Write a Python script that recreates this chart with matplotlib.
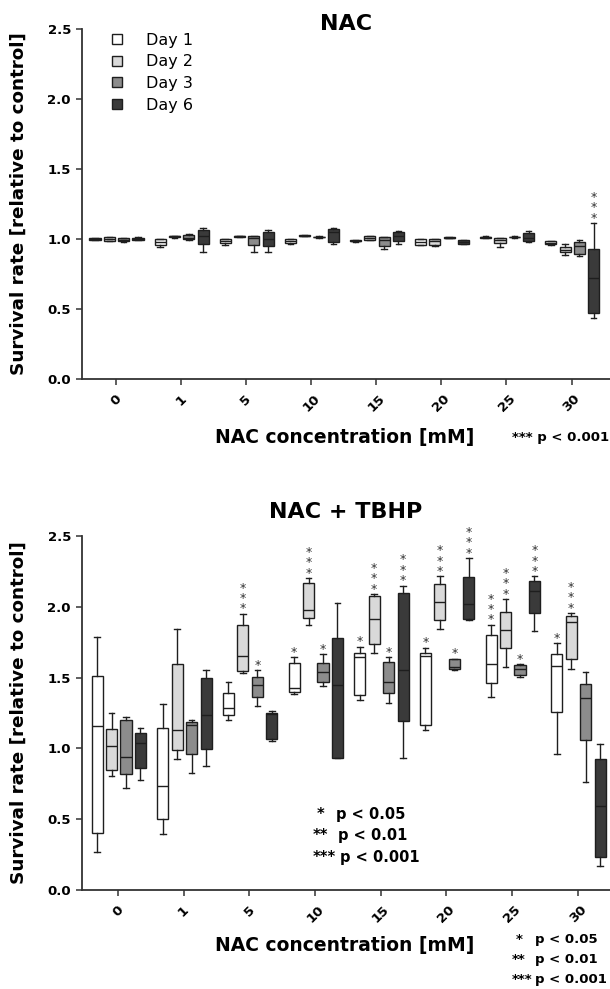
import numpy as np
import matplotlib
matplotlib.use('Agg')
import matplotlib.pyplot as plt
from matplotlib.lines import Line2D

plt.rcParams['font.family'] = 'DejaVu Sans'

concentrations = ['0', '1', '5', '10', '15', '20', '25', '30']
days = ['Day 1', 'Day 2', 'Day 3', 'Day 6']
day_colors = ['#ffffff', '#d9d9d9', '#8c8c8c', '#3a3a3a']

# box summaries per concentration: (min, q1, median, q3, max)
nac_day1 = [(0.99, 0.995, 1.0, 1.005, 1.01), (0.94, 0.96, 0.98, 1.0, 1.0),
            (0.957, 0.97, 0.985, 1.0, 1.0), (0.967, 0.97, 0.985, 1.0, 1.0),
            (0.98, 0.985, 0.988, 0.99, 0.993), (0.96, 0.96, 0.98, 1.0, 1.0),
            (1.005, 1.008, 1.012, 1.015, 1.018), (0.955, 0.967, 0.975, 0.983, 0.985)]
nac_day2 = [(0.985, 0.988, 1.0, 1.014, 1.016), (1.01, 1.013, 1.018, 1.022, 1.025),
            (1.012, 1.015, 1.02, 1.022, 1.025), (1.02, 1.022, 1.024, 1.026, 1.028),
            (0.99, 0.995, 1.005, 1.019, 1.025), (0.95, 0.96, 0.983, 1.0, 1.0),
            (0.943, 0.971, 0.99, 1.005, 1.005), (0.888, 0.905, 0.924, 0.943, 0.967)]
nac_day3 = [(0.976, 0.985, 0.995, 1.005, 1.01), (0.99, 1.0, 1.01, 1.026, 1.035),
            (0.907, 0.957, 1.01, 1.019, 1.019), (1.01, 1.012, 1.014, 1.016, 1.018),
            (0.931, 0.948, 0.99, 1.014, 1.014), (1.005, 1.008, 1.01, 1.012, 1.015),
            (1.01, 1.012, 1.014, 1.016, 1.018), (0.88, 0.895, 0.952, 0.976, 0.995)]
nac_day6 = [(0.99, 0.99, 1.0, 1.01, 1.015), (0.907, 0.967, 1.02, 1.067, 1.079),
            (0.907, 0.948, 1.0, 1.048, 1.062), (0.967, 0.976, 1.05, 1.071, 1.079),
            (0.967, 0.983, 1.02, 1.048, 1.055), (0.965, 0.967, 0.98, 0.99, 0.995),
            (0.98, 0.988, 1.01, 1.043, 1.06), (0.435, 0.47, 0.72, 0.93, 1.115)]

tbhp_day1 = [(0.271, 0.401, 1.158, 1.512, 1.79), (0.392, 0.498, 0.733, 1.146, 1.316),
             (1.203, 1.236, 1.283, 1.392, 1.469), (1.387, 1.399, 1.429, 1.606, 1.642),
             (1.34, 1.375, 1.642, 1.675, 1.717), (1.132, 1.163, 1.653, 1.675, 1.712),
             (1.363, 1.462, 1.599, 1.803, 1.873), (0.962, 1.257, 1.58, 1.665, 1.745)]
tbhp_day2 = [(0.802, 0.844, 1.019, 1.139, 1.25), (0.927, 0.986, 1.132, 1.594, 1.843),
             (1.533, 1.549, 1.65, 1.873, 1.951), (1.873, 1.92, 1.974, 2.167, 2.202),
             (1.674, 1.737, 1.915, 2.073, 2.09), (1.843, 1.904, 2.033, 2.16, 2.214),
             (1.573, 1.709, 1.833, 1.96, 2.054), (1.561, 1.634, 1.89, 1.932, 1.955)]
tbhp_day3 = [(0.719, 0.816, 0.939, 1.203, 1.222), (0.825, 0.962, 1.163, 1.189, 1.198),
             (1.297, 1.363, 1.446, 1.505, 1.552), (1.439, 1.469, 1.54, 1.604, 1.665),
             (1.321, 1.392, 1.469, 1.613, 1.642), (1.557, 1.559, 1.575, 1.63, 1.634),
             (1.505, 1.521, 1.564, 1.587, 1.594), (0.762, 1.061, 1.358, 1.458, 1.54)]
tbhp_day6 = [(0.774, 0.861, 1.04, 1.111, 1.146), (0.875, 0.993, 1.233, 1.498, 1.552),
             (1.05, 1.064, 1.24, 1.25, 1.262), (0.929, 0.934, 1.45, 1.779, 2.026),
             (0.934, 1.191, 1.556, 2.096, 2.15), (1.908, 1.915, 2.021, 2.207, 2.343),
             (1.831, 1.955, 2.113, 2.183, 2.214), (0.172, 0.236, 0.59, 0.927, 1.033)]

# number of asterisks above each box
nac_stars = [[0] * 8, [0] * 8, [0] * 8, [0, 0, 0, 0, 0, 0, 0, 3]]
tbhp_stars = [[0, 0, 0, 1, 1, 1, 3, 1],
              [0, 0, 3, 3, 3, 3, 3, 3],
              [0, 0, 1, 1, 1, 1, 1, 0],
              [0, 0, 0, 0, 3, 3, 3, 0]]

key_stars = ['*', '**', '***']
key_text = ['p < 0.05', 'p < 0.01', 'p < 0.001']

offsets = (np.arange(4) - 1.5) * 0.22 + 0.01
ink = '#1e1e1e'

W, H = 610, 989
fig = plt.figure(figsize=(W / 100, H / 100), dpi=100)


def px_axes(left, top, right, bottom):
    return fig.add_axes([left / W, 1 - bottom / H, (right - left) / W, (bottom - top) / H])


def draw_panel(ax, series, stars, xlim):
    for d in range(4):
        stats = [dict(whislo=s[0], q1=s[1], med=s[2], q3=s[3], whishi=s[4], fliers=[])
                 for s in series[d]]
        pos = np.arange(len(concentrations)) + offsets[d]
        ax.bxp(stats, positions=pos, widths=0.17, patch_artist=True, showfliers=False,
               capwidths=0.085,
               boxprops=dict(facecolor=day_colors[d], edgecolor=ink, linewidth=1.0),
               medianprops=dict(color=ink, linewidth=1.0),
               whiskerprops=dict(color=ink, linewidth=1.0),
               capprops=dict(color=ink, linewidth=1.0))
        for g, n in enumerate(stars[d]):
            if n:
                # stacked asterisks, one per line
                ax.annotate('\n'.join(['*'] * n), xy=(pos[g], series[d][g][4]),
                            xytext=(0, 1), textcoords='offset points', ha='center',
                            va='baseline', fontsize=9, linespacing=0.74, color='#333333')
    ax.set_xlim(*xlim)
    ax.set_ylim(0, 2.5)
    ax.set_yticks(np.arange(0, 2.51, 0.5))
    ax.set_yticklabels([f'{v:.1f}' for v in np.arange(0, 2.51, 0.5)], fontweight='bold')
    ax.set_xticks(np.arange(len(concentrations)))
    ax.set_xticklabels(concentrations, rotation=45, ha='center', fontweight='bold')
    ax.tick_params(direction='out', length=4.5, width=1.1, color='#333333',
                   labelsize=9.5, pad=3.5)
    ax.tick_params(axis='x', pad=5)
    for s in ['top', 'right']:
        ax.spines[s].set_visible(False)
    for s in ['left', 'bottom']:
        ax.spines[s].set_linewidth(1.3)
        ax.spines[s].set_color('#333333')
    ax.set_ylabel('Survival rate [relative to control]', fontsize=13.2, fontweight='bold')
    ax.yaxis.set_label_coords(-0.102, 0.5)


ax1 = px_axes(82, 29, 610, 379)
draw_panel(ax1, [nac_day1, nac_day2, nac_day3, nac_day6], nac_stars, (-0.52, 7.59))

ax2 = px_axes(82, 536, 610, 890)
draw_panel(ax2, [tbhp_day1, tbhp_day2, tbhp_day3, tbhp_day6], tbhp_stars, (-0.55, 7.49))

# legend
handles = [Line2D([], [], linestyle='none', marker='s', markersize=6.5,
                  markerfacecolor=c, markeredgecolor=ink, markeredgewidth=1.0)
           for c in day_colors]
ax1.legend(handles, days, loc='upper left', bbox_to_anchor=(0.051, 0.99), frameon=False,
           fontsize=11.5, handlelength=1.0, handletextpad=1.3, labelspacing=0.42,
           borderaxespad=0, borderpad=0)

# titles and x labels
fig.text(346 / W, 1 - 24 / H, 'NAC', ha='center', va='center', fontsize=16, fontweight='bold')
fig.text(346 / W, 1 - 512 / H, 'NAC + TBHP', ha='center', va='center', fontsize=16,
         fontweight='bold')
fig.text(345 / W, 1 - 437 / H, 'NAC concentration [mM]', ha='center', va='center',
         fontsize=13.5, fontweight='bold')
fig.text(345 / W, 1 - 945 / H, 'NAC concentration [mM]', ha='center', va='center',
         fontsize=13.5, fontweight='bold')
fig.text(512 / W, 1 - 437 / H, '*** p < 0.001', ha='left', va='center', fontsize=9.5,
         fontweight='bold')

# significance key, bottom right
for i, (s, t) in enumerate(zip(key_stars, key_text)):
    y = 1 - (940 + 20 * i) / H
    fig.text([516, 512, 512][i] / W, y, s, ha='left', va='center', fontsize=9.5,
             fontweight='bold')
    fig.text(535 / W, y, t, ha='left', va='center', fontsize=9.5, fontweight='bold')

# significance key inside the lower panel
inner_y = [0.535, 0.386, 0.232]
for i, (s, t) in enumerate(zip(key_stars, key_text)):
    ax2.text([3.03, 2.97, 2.97][i], inner_y[i], s, ha='left', va='center', fontsize=10.5,
             fontweight='bold')
    ax2.text([3.32, 3.35, 3.38][i], inner_y[i], t, ha='left', va='center', fontsize=10.5,
             fontweight='bold')

fig.savefig('out.png', dpi=100)
